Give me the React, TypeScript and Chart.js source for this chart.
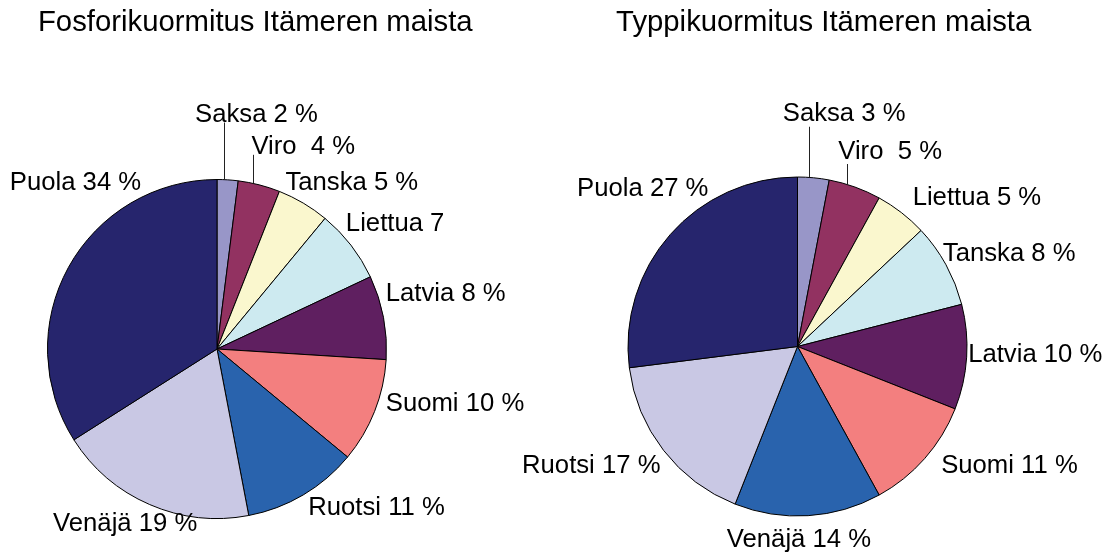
import React, { useEffect, useRef } from 'react';
import { Chart, registerables } from 'chart.js';

Chart.register(...registerables);

// ---------- data ----------
const FOSFORI_TITLE = 'Fosforikuormitus Itämeren maista';
const FOSFORI_COUNTRIES = ['Saksa', 'Viro', 'Tanska', 'Liettua', 'Latvia', 'Suomi', 'Ruotsi', 'Venäjä', 'Puola'];
const FOSFORI_VALUES = [2, 4, 5, 7, 8, 10, 11, 19, 34];
const FOSFORI_LABELS = ['Saksa 2 %', 'Viro  4 %', 'Tanska 5 %', 'Liettua 7', 'Latvia 8 %', 'Suomi 10 %', 'Ruotsi 11 %', 'Venäjä 19 %', 'Puola 34 %'];

const TYPPI_TITLE = 'Typpikuormitus Itämeren maista';
const TYPPI_COUNTRIES = ['Saksa', 'Viro', 'Liettua', 'Tanska', 'Latvia', 'Suomi', 'Venäjä', 'Ruotsi', 'Puola'];
const TYPPI_VALUES = [3, 5, 5, 8, 10, 11, 14, 17, 27];
const TYPPI_LABELS = ['Saksa 3 %', 'Viro  5 %', 'Liettua 5 %', 'Tanska 8 %', 'Latvia 10 %', 'Suomi 11 %', 'Venäjä 14 %', 'Ruotsi 17 %', 'Puola 27 %'];

// ---------- styles / layout ----------
const SLICE_COLORS = ['#9896C8', '#923261', '#FAF7CE', '#CDEAF0', '#5F1F60', '#F37F7F', '#2963AD', '#C9C8E4', '#26256D'];
const FONT = '"Liberation Sans", Arial, Helvetica, sans-serif';
const LABEL_FONT_SIZE = 25.7;
const TITLE_FONT_SIZE = 29.3;
const W = 1113;
const H = 556;

// label offsets (px): [centre-x, baseline-y] relative to each slice's outer mid-point
const FOSFORI_LABEL_OFFSETS = [
  [28.8, -58.3], [44.1, -31], [48.5, -12.7], [44.2, -13.8], [62.2, -16.1],
  [80.4, 0.1], [73.2, 19.7], [-24.5, 26], [7, -77.1],
];
const TYPPI_LABEL_OFFSETS = [
  [30.7, -56.5], [35.2, -28.5], [75.5, -7.2], [63.2, -3.9], [68.6, 4.5],
  [84.8, 14.4], [-9.2, 31.5], [-72.3, 22.6], [-27.6, -38.4],
];

type PieProps = {
  title: string;
  titleX: number;
  countries: string[];
  values: number[];
  texts: string[];
  offsets: number[][];
  padding: { left: number; top: number; right: number; bottom: number };
  leaderCount: number;
  leaderGap: number;
};

function PieChart(props: PieProps) {
  const ref = useRef<HTMLCanvasElement>(null);
  useEffect(() => {
    const { title, titleX, countries, values, texts, offsets, padding, leaderCount, leaderGap } = props;
    const labelPlugin = {
      id: 'sliceLabels',
      afterDraw(chart: any) {
        const ctx = chart.ctx as CanvasRenderingContext2D;
        const meta = chart.getDatasetMeta(0);
        ctx.save();
        ctx.fillStyle = '#000';
        ctx.font = `${TITLE_FONT_SIZE}px ${FONT}`;
        ctx.textAlign = 'center';
        ctx.textBaseline = 'alphabetic';
        ctx.fillText(title, titleX, 31);
        ctx.font = `${LABEL_FONT_SIZE}px ${FONT}`;
        meta.data.forEach((arc: any, i: number) => {
          const { x, y, startAngle, endAngle, outerRadius } = arc.getProps(['x', 'y', 'startAngle', 'endAngle', 'outerRadius'], true);
          const mid = (startAngle + endAngle) / 2;
          const px = x + outerRadius * Math.cos(mid);
          const py = y + outerRadius * Math.sin(mid);
          const cx = px + offsets[i][0];
          const by = py + offsets[i][1];
          if (i < leaderCount) {
            const a = startAngle + 0.35 * (endAngle - startAngle);
            const lx = x + outerRadius * Math.cos(a);
            const ly = y + outerRadius * Math.sin(a);
            ctx.strokeStyle = '#222';
            ctx.lineWidth = 1;
            ctx.beginPath();
            ctx.moveTo(Math.round(lx) + 0.5, ly);
            ctx.lineTo(Math.round(lx) + 0.5, by + leaderGap);
            ctx.stroke();
          }
          ctx.fillStyle = '#000';
          ctx.textAlign = 'center';
          ctx.fillText(texts[i], cx, by);
        });
        ctx.restore();
      },
    };
    const chart = new Chart(ref.current as HTMLCanvasElement, {
      type: 'pie',
      data: {
        labels: countries,
        datasets: [
          {
            data: values,
            backgroundColor: SLICE_COLORS,
            borderColor: '#000',
            borderWidth: 1,
            hoverOffset: 0,
          },
        ],
      },
      options: {
        responsive: false,
        animation: false,
        devicePixelRatio: 1,
        events: [],
        layout: { padding },
        plugins: {
          legend: { display: false },
          tooltip: { enabled: false },
          title: { display: false },
        },
      },
      plugins: [labelPlugin],
    });
    return () => chart.destroy();
  }, []);
  return (
    <canvas
      ref={ref}
      width={W}
      height={H}
      style={{ position: 'absolute', left: 0, top: 0, width: W, height: H }}
    />
  );
}

export default function App() {
  return (
    <div style={{ position: 'fixed', left: 0, top: 0, width: W, height: H, background: '#fff', overflow: 'hidden' }}>
      <PieChart
        title={FOSFORI_TITLE}
        titleX={255.3}
        countries={FOSFORI_COUNTRIES}
        values={FOSFORI_VALUES}
        texts={FOSFORI_LABELS}
        offsets={FOSFORI_LABEL_OFFSETS}
        padding={{ left: 47, top: 179, right: 726, bottom: 37 }}
        leaderCount={2}
        leaderGap={1}
      />
      <PieChart
        title={TYPPI_TITLE}
        titleX={823.7}
        countries={TYPPI_COUNTRIES}
        values={TYPPI_VALUES}
        texts={TYPPI_LABELS}
        offsets={TYPPI_LABEL_OFFSETS}
        padding={{ left: 627.5, top: 176.5, right: 145.5, bottom: 39.5 }}
        leaderCount={2}
        leaderGap={5.5}
      />
    </div>
  );
}
